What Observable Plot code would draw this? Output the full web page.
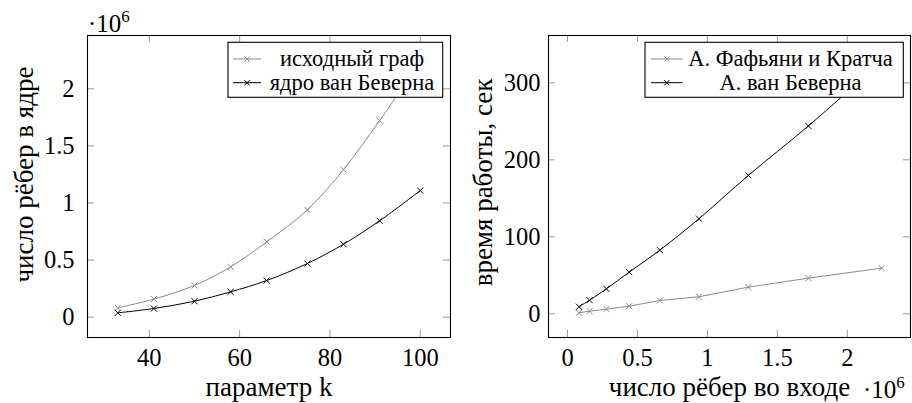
<!DOCTYPE html>
<html><head><meta charset="utf-8">
<script src="https://cdn.jsdelivr.net/npm/d3@7"></script>
<script src="https://cdn.jsdelivr.net/npm/@observablehq/plot@0.6"></script>
<style>
body{margin:0;background:#fff;}
#wrap{position:relative;width:912px;height:403px;font-family:"Liberation Serif";color:#000;}
#wrap svg text, #wrap svg tspan{font-family:"Liberation Serif" !important;}
.panel{position:absolute;top:0;}
.mult{position:absolute;font-family:"Liberation Serif";font-size:25px;line-height:1;white-space:nowrap;}
.mult sup{font-size:17px;vertical-align:0;position:relative;top:-10px;}
</style></head><body><div id="wrap"></div>
<script>
// Left panel: parameter k vs number of edges (×10^6)
const kParam = [33, 41, 50, 58, 66, 75, 83, 91, 100];
const edgesInput = [0.082, 0.158, 0.278, 0.441, 0.66, 0.94, 1.293, 1.722, 2.245];
const edgesKernel = [0.038, 0.076, 0.14, 0.222, 0.321, 0.47, 0.639, 0.844, 1.109];
// Right panel: number of input edges (×10^6) vs running time, sec
const timeFK = [1.3, 3.4, 6, 9.9, 17.3, 22.1, 34.6, 46.3, 59.3];
const timeVB = [9.1, 17.7, 32.5, 54.1, 82.7, 123.5, 179.8, 244, 328];

const leftXTicks = [40, 60, 80, 100];
const leftYTicks = [0, 0.5, 1, 1.5, 2];
const rightXTicks = [0, 0.5, 1, 1.5, 2];
const rightYTicks = [0, 100, 200, 300];

const leftSeries = ["исходный граф", "ядро ван Беверна"];
const rightSeries = ["А. Фафьяни и Кратча", "А. ван Беверна"];
const leftXLabel = "параметр k", leftYLabel = "число рёбер в ядре";
const rightXLabel = "число рёбер во входе", rightYLabel = "время работы, сек";

const GRAY = "#8a8a8a", BLACK = "#000";
const FONT = "Liberation Serif";
const TICK_FS = 24.5, LABEL_FS = 27, LEG_FS = 22.5;

const leftData = kParam.flatMap((k, i) => [
  {s: leftSeries[0], x: k, y: edgesInput[i]},
  {s: leftSeries[1], x: k, y: edgesKernel[i]}
]);
const rightData = edgesInput.flatMap((e, i) => [
  {s: rightSeries[0], x: e, y: timeFK[i]},
  {s: rightSeries[1], x: e, y: timeVB[i]}
]);

function panel({data, series, xDomain, yDomain, xTicks, yTicks, mL, mR, xLabel, yLabel, yPad, yLabelDx, yLabelDy, smooth}) {
  const W = 456, H = 403, mT = 35, mB = 66;
  const fw = W - mL - mR, fh = H - mT - mB, tl = 7;
  const colorOf = s => s === series[0] ? GRAY : BLACK;
  const marks = [];
  for (const s of series) {
    const d = data.filter(r => r.s === s);
    marks.push(Plot.line(d, {x: "x", y: "y", stroke: colorOf(s), strokeWidth: 1, curve: smooth[s] ? "catmull-rom" : "linear"}));
    marks.push(Plot.dot(d, {x: "x", y: "y", symbol: "times", r: 2.9, stroke: colorOf(s), strokeWidth: 1}));
  }
  marks.push(
    Plot.tickX(xTicks, {x: d => d, stroke: "#999", insetTop: fh - tl}),
    Plot.tickX(xTicks, {x: d => d, stroke: "#999", insetBottom: fh - tl}),
    Plot.tickY(yTicks, {y: d => d, stroke: "#999", insetRight: fw - tl}),
    Plot.tickY(yTicks, {y: d => d, stroke: "#999", insetLeft: fw - tl}),
    Plot.frame({stroke: "#000", strokeWidth: 1.1}),
    Plot.axisX({ticks: xTicks, tickSize: 0, tickPadding: 11, label: null, tickFormat: d => String(d), fontSize: TICK_FS, fontFamily: FONT, fill: "#000"}),
    Plot.axisY({ticks: yTicks, tickSize: 0, tickPadding: yPad, label: null, tickFormat: d => String(d), fontSize: TICK_FS, fontFamily: FONT, fill: "#000"}),
    Plot.text([xLabel], {text: d => d, frameAnchor: "bottom", textAnchor: "middle", lineAnchor: "bottom", dy: 58, fontSize: LABEL_FS, fontFamily: FONT, fill: "#000"}),
    Plot.text([yLabel], {text: d => d, frameAnchor: "left", textAnchor: "middle", lineAnchor: "middle", rotate: -90, dx: yLabelDx, dy: yLabelDy, fontSize: LABEL_FS, fontFamily: FONT, fill: "#000"})
  );
  return Plot.plot({
    width: W, height: H, marginLeft: mL, marginRight: mR, marginTop: mT, marginBottom: mB,
    x: {domain: xDomain}, y: {domain: yDomain},
    style: {background: "white", overflow: "visible", fontFamily: FONT},
    marks
  });
}

const wrap = document.getElementById("wrap");
const left = panel({data: leftData, series: leftSeries, xDomain: [26.3, 106.7], yDomain: [-0.178, 2.467],
  xTicks: leftXTicks, yTicks: leftYTicks, mL: 87, mR: 6, xLabel: leftXLabel, yLabel: leftYLabel, yPad: 13, yLabelDx: -63.5, yLabelDy: -12,
  smooth: {[leftSeries[0]]: true, [leftSeries[1]]: true}});
const right = panel({data: rightData, series: rightSeries, xDomain: [-0.136, 2.452], yDomain: [-30.8, 361.5],
  xTicks: rightXTicks, yTicks: rightYTicks, mL: 92, mR: 2, xLabel: rightXLabel, yLabel: rightYLabel, yPad: 8, yLabelDx: -65, yLabelDy: -4,
  smooth: {[rightSeries[0]]: false, [rightSeries[1]]: true}});
left.classList.add("panel"); left.style.left = "0px";
right.classList.add("panel"); right.style.left = "456px";
wrap.appendChild(left); wrap.appendChild(right);

// multiplier labels
function mult(x, baseline) {
  const d = document.createElement("div");
  d.className = "mult";
  d.innerHTML = "·10<sup>6</sup>";
  d.style.left = x + "px";
  d.style.top = (baseline - 20) + "px";
  wrap.appendChild(d);
}
mult(88, 31);
mult(863, 397);

// legends
function legend(svg, {x, y, w, h, names, sx0, sx1, tcx}) {
  const g = d3.select(svg).append("g");
  g.append("rect").attr("x", x).attr("y", y).attr("width", w).attr("height", h)
    .attr("fill", "white").attr("stroke", "#000").attr("stroke-width", 1.1);
  const rows = [y + 16.7, y + 40.4];
  names.forEach((n, i) => {
    const c = i === 0 ? GRAY : BLACK;
    const cy = rows[i];
    g.append("line").attr("x1", sx0).attr("x2", sx1).attr("y1", cy).attr("y2", cy).attr("stroke", c).attr("stroke-width", 1);
    const cx = (sx0 + sx1) / 2, r = 2.6;
    g.append("path").attr("d", `M${cx - r},${cy - r}L${cx + r},${cy + r}M${cx - r},${cy + r}L${cx + r},${cy - r}`).attr("stroke", c).attr("stroke-width", 1);
    g.append("text").attr("x", tcx).attr("y", cy + 7).attr("text-anchor", "middle")
      .style("font-family", FONT).style("font-size", LEG_FS + "px").attr("fill", "#000").text(n);
  });
}
legend(left, {x: 228, y: 42.3, w: 214.7, h: 55, names: leftSeries, sx0: 233, sx1: 261, tcx: 352});
legend(right, {x: 645 - 456, y: 42.3, w: 258.3, h: 55, names: rightSeries, sx0: 651 - 456, sx1: 682.7 - 456, tcx: 790.5 - 456});
</script></body></html>
